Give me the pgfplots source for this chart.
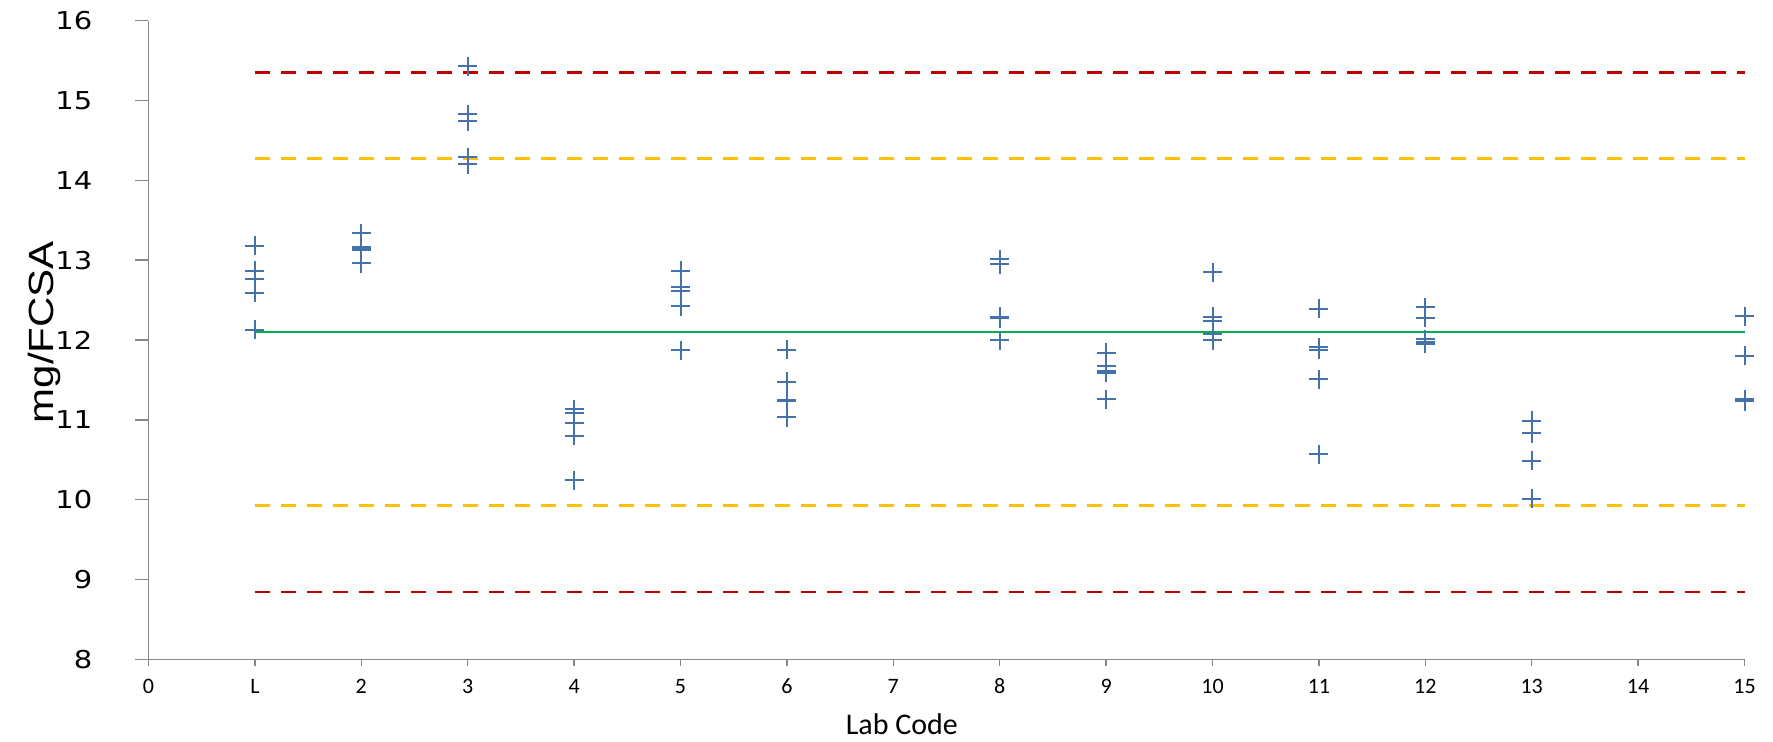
\documentclass[border=0pt]{standalone}
\usepackage{fontspec}
\setmainfont{Carlito}
\newfontfamily\dejavu{DejaVu Sans}
\newfontfamily\libsans{Liberation Sans}
\usepackage{graphicx}
\usepackage{pgfplots}
\pgfplotsset{compat=1.18}
\definecolor{ptblue}{RGB}{70,114,172}
\definecolor{dred}{RGB}{192,0,0}
\definecolor{dorange}{RGB}{255,192,0}
\definecolor{dgreen}{RGB}{0,176,80}
\definecolor{axgray}{RGB}{134,134,134}
\newcommand{\sy}[1]{\scalebox{1.18}[1]{#1}}

\pgfplotstableread{
x y
1 13.18
1 12.87
1 12.77
1 12.59
1 12.13
2 13.34
2 13.16
2 13.14
2 13.13
2 12.96
3 15.43
3 14.83
3 14.74
3 14.29
3 14.20
4 11.13
4 11.08
4 10.96
4 10.80
4 10.24
5 12.87
5 12.66
5 12.62
5 12.42
5 11.87
6 11.88
6 11.48
6 11.25
6 11.24
6 11.03
8 13.01
8 12.95
8 12.29
8 12.27
8 12.00
9 11.84
9 11.68
9 11.61
9 11.59
9 11.26
10 12.85
10 12.29
10 12.24
10 12.08
10 12.00
11 12.39
11 11.91
11 11.88
11 11.51
11 10.57
12 12.41
12 12.28
12 12.01
12 11.98
12 11.95
13 10.99
13 10.83
13 10.49
13 10.01
15 12.30
15 11.80
15 11.26
15 11.23
}\labdata

\begin{document}
\begin{tikzpicture}
\begin{axis}[
  scale only axis, width=798pt, height=319.3pt,
  xmin=0, xmax=15, ymin=8, ymax=16,
  axis x line*=bottom, axis y line*=left,
  axis line style={axgray, line width=0.75pt, -},
  xtick={0,...,15},
  xticklabels={0,L,2,3,4,5,6,7,8,9,10,11,12,13,14,15},
  ytick={8,...,16},
  yticklabels={\sy{8},\sy{9},\sy{10},\sy{11},\sy{12},\sy{13},\sy{14},\sy{15},\sy{16}},
  tick align=outside,
  major tick length=7pt,
  tick style={axgray, line width=0.75pt},
  x tick style={/pgfplots/major tick length=3.5pt},
  xticklabel style={font=\fontsize{11}{13}\selectfont, anchor=base, inner sep=0pt, yshift=-9.85pt},
  yticklabel style={font=\dejavu\fontsize{12.3}{14}\selectfont, anchor=east, inner sep=0pt, xshift=-20.9pt},
  xlabel={Lab Code},
  xlabel style={font=\fontsize{15}{18}\selectfont, at={(axis description cs:0.472,-0.1174)}, anchor=base, inner sep=0pt},
  ylabel={\scalebox{1.2}[1]{mg/FCSA}},
  ylabel style={font=\libsans\fontsize{17.5}{20}\selectfont, at={(axis description cs:-0.05965,0.5125)}, anchor=base, inner sep=0pt, rotate=0},
  clip=false,
]
\addplot[dred, line width=1.35pt, dash pattern=on 7.5pt off 5.5pt] coordinates {(1,15.355) (15,15.355)};
\addplot[dred, line width=1.35pt, dash pattern=on 7.5pt off 5.5pt] coordinates {(1,8.845) (15,8.845)};
\addplot[dorange, line width=1.35pt, dash pattern=on 7.5pt off 5.5pt] coordinates {(1,14.27) (15,14.27)};
\addplot[dorange, line width=1.35pt, dash pattern=on 7.5pt off 5.5pt] coordinates {(1,9.93) (15,9.93)};
\addplot[dgreen, line width=1.3pt] coordinates {(1,12.10) (15,12.10)};
\addplot[only marks, mark=+, mark size=4.75pt, color=ptblue, mark options={line width=1pt}] table[x=x, y=y] {\labdata};
\end{axis}
\pgfresetboundingbox
\path[use as bounding box] (-74.25pt,-40.85pt) rectangle (812.25pt,329.65pt);
\end{tikzpicture}
\end{document}
